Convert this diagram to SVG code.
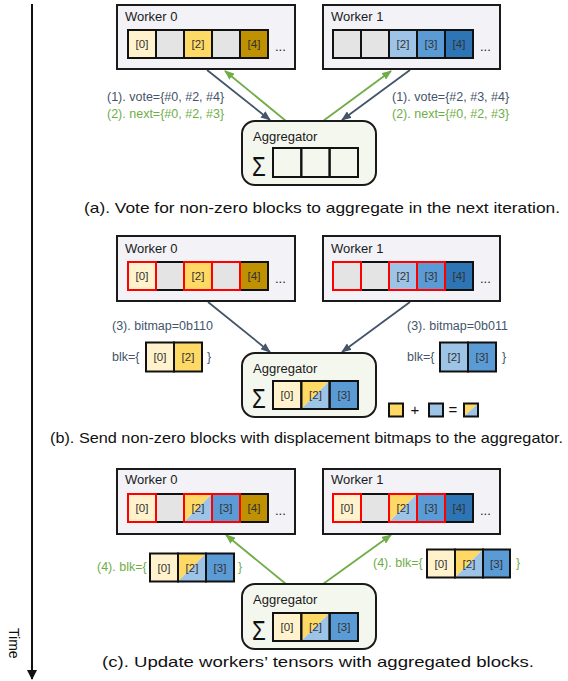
<svg xmlns="http://www.w3.org/2000/svg" width="568" height="681" viewBox="0 0 568 681">
<style>
text{font-family:"Liberation Sans",Arial,sans-serif;}
.wbox{fill:#F2F2F7;stroke:#1a1a1a;stroke-width:2;}
.abox{fill:#F4F7EE;stroke:#1a1a1a;stroke-width:2;}
.c{stroke:#111;stroke-width:2;}
.r{fill:none;stroke:#FF0000;stroke-width:2;}
.cream{fill:#FFF2CC;}
.gray{fill:#E4E4E4;}
.yel{fill:#FFD966;}
.gold{fill:#BF9000;}
.lb{fill:#9DC3E6;}
.mb{fill:#5B9BD5;}
.db{fill:#2E75B6;}
.none{fill:none;}
.t{font-size:13px;fill:#1a1a1a;}
.ct{font-size:11.5px;fill:#333;text-anchor:middle;}
.dots{font-size:13px;fill:#1a1a1a;}
.sig{font-size:36px;fill:#111;}
.ld{font-size:12.5px;fill:#44546A;}
.lg{font-size:12.5px;fill:#70AD47;}
.cap{font-size:14.5px;fill:#111;}
.dk{stroke:#44546A;stroke-width:1.8;fill:none;}
.gr{stroke:#70AD47;stroke-width:1.8;fill:none;}
</style>
<defs>
<marker id="ad" markerUnits="userSpaceOnUse" markerWidth="10" markerHeight="8" refX="9" refY="4" orient="auto"><path d="M0,0 L10,4 L0,8 z" fill="#44546A"/></marker>
<marker id="ag" markerUnits="userSpaceOnUse" markerWidth="10" markerHeight="8" refX="9" refY="4" orient="auto"><path d="M0,0 L10,4 L0,8 z" fill="#70AD47"/></marker>
<marker id="ak" markerUnits="userSpaceOnUse" markerWidth="10" markerHeight="10" refX="9" refY="5" orient="auto"><path d="M0,0 L10,5 L0,10 z" fill="#111"/></marker>
</defs>

<!-- Time axis -->
<g id="time">
<line x1="32" y1="4" x2="32" y2="679" stroke="#111" stroke-width="2" marker-end="url(#ak)"/>
<text transform="translate(9,628) rotate(90)" style="font-size:14px;fill:#111">Time</text>
</g>

<!-- Connectors -->
<g id="connectors">
<line class="dk" x1="207" y1="70" x2="270" y2="120" marker-end="url(#ad)"/>
<line class="dk" x1="410" y1="70" x2="342" y2="120" marker-end="url(#ad)"/>
<line class="gr" x1="286" y1="121" x2="225" y2="71" marker-end="url(#ag)"/>
<line class="gr" x1="323" y1="121" x2="391" y2="71" marker-end="url(#ag)"/>
<line class="dk" x1="208" y1="302" x2="270" y2="352" marker-end="url(#ad)"/>
<line class="dk" x1="410" y1="302" x2="342" y2="352" marker-end="url(#ad)"/>
<line class="gr" x1="286" y1="584" x2="226" y2="535" marker-end="url(#ag)"/>
<line class="gr" x1="323" y1="584" x2="391" y2="535" marker-end="url(#ag)"/>
</g>

<!-- ===== (a) ===== -->
<g id="a-worker0">
<rect class="wbox" x="117" y="5" width="178" height="64"/>
<text class="t" x="125" y="21">Worker 0</text>
<rect class="c cream" x="128" y="30" width="28" height="28"/>
<rect class="c gray" x="156" y="30" width="28" height="28"/>
<rect class="c yel" x="184" y="30" width="28" height="28"/>
<rect class="c gray" x="212" y="30" width="28" height="28"/>
<rect class="c gold" x="240" y="30" width="28" height="28"/>
<text class="ct" x="142" y="48">[0]</text>
<text class="ct" x="198" y="48">[2]</text>
<text class="ct" x="254" y="48">[4]</text>
<text class="dots" x="275" y="51">...</text>
</g>
<g id="a-worker1">
<rect class="wbox" x="323" y="5" width="177" height="64"/>
<text class="t" x="331" y="21">Worker 1</text>
<rect class="c gray" x="333" y="30" width="28" height="28"/>
<rect class="c gray" x="361" y="30" width="28" height="28"/>
<rect class="c lb" x="389" y="30" width="28" height="28"/>
<rect class="c mb" x="417" y="30" width="28" height="28"/>
<rect class="c db" x="445" y="30" width="28" height="28"/>
<text class="ct" x="403" y="48">[2]</text>
<text class="ct" x="431" y="48">[3]</text>
<text class="ct" x="459" y="48">[4]</text>
<text class="dots" x="480" y="51">...</text>
</g>
<g id="a-labels">
<text class="ld" x="107" y="101">(1). vote={#0, #2, #4}</text>
<text class="lg" x="107" y="118">(2). next={#0, #2, #3}</text>
<text class="ld" x="392" y="101">(1). vote={#2, #3, #4}</text>
<text class="lg" x="392" y="118">(2). next={#0, #2, #3}</text>
</g>
<g id="a-aggregator">
<rect class="abox" x="242" y="121" width="134" height="64" rx="13"/>
<text class="t" x="253" y="141">Aggregator</text>
<text class="sig" transform="translate(252,176) scale(0.62,0.78)">Σ</text>
<rect class="c none" x="273" y="148" width="28.3" height="29"/>
<rect class="c none" x="301.3" y="148" width="28.3" height="29"/>
<rect class="c none" x="329.6" y="148" width="28.4" height="29"/>
</g>
<g id="a-caption">
<text class="cap" x="84" y="213" textLength="476" lengthAdjust="spacingAndGlyphs">(a). Vote for non-zero blocks to aggregate in the next iteration.</text>
</g>

<!-- ===== (b) ===== -->
<g id="b-worker0">
<rect class="wbox" x="117" y="236" width="178" height="65"/>
<text class="t" x="125" y="253">Worker 0</text>
<rect class="c cream" x="128" y="262" width="28" height="28"/>
<rect class="c gray" x="156" y="262" width="28" height="28"/>
<rect class="c yel" x="184" y="262" width="28" height="28"/>
<rect class="c gray" x="212" y="262" width="28" height="28"/>
<rect class="c gold" x="240" y="262" width="28" height="28"/>
<rect class="r" x="128" y="262" width="28" height="28"/>
<rect class="r" x="184" y="262" width="28" height="28"/>
<rect class="r" x="212" y="262" width="28" height="28"/>
<text class="ct" x="142" y="280">[0]</text>
<text class="ct" x="198" y="280">[2]</text>
<text class="ct" x="254" y="280">[4]</text>
<text class="dots" x="275" y="283">...</text>
</g>
<g id="b-worker1">
<rect class="wbox" x="323" y="236" width="177" height="65"/>
<text class="t" x="331" y="253">Worker 1</text>
<rect class="c gray" x="333" y="262" width="28" height="28"/>
<rect class="c gray" x="361" y="262" width="28" height="28"/>
<rect class="c lb" x="389" y="262" width="28" height="28"/>
<rect class="c mb" x="417" y="262" width="28" height="28"/>
<rect class="c db" x="445" y="262" width="28" height="28"/>
<rect class="r" x="333" y="262" width="28" height="28"/>
<rect class="r" x="389" y="262" width="28" height="28"/>
<rect class="r" x="417" y="262" width="28" height="28"/>
<text class="ct" x="403" y="280">[2]</text>
<text class="ct" x="431" y="280">[3]</text>
<text class="ct" x="459" y="280">[4]</text>
<text class="dots" x="480" y="283">...</text>
</g>
<g id="b-labels">
<text class="ld" x="112" y="330">(3). bitmap=0b110</text>
<text class="ld" x="407" y="330">(3). bitmap=0b011</text>
<text class="ld" x="112" y="361">blk={</text>
<rect class="c cream" x="146" y="342.5" width="28" height="29"/>
<rect class="c yel" x="174" y="342.5" width="28" height="29"/>
<text class="ct" x="160" y="361">[0]</text>
<text class="ct" x="188" y="361">[2]</text>
<text class="ld" x="207" y="361">}</text>
<text class="ld" x="407" y="361">blk={</text>
<rect class="c lb" x="440" y="342.5" width="28" height="29"/>
<rect class="c mb" x="468" y="342.5" width="28" height="29"/>
<text class="ct" x="454" y="361">[2]</text>
<text class="ct" x="482" y="361">[3]</text>
<text class="ld" x="502" y="361">}</text>
</g>
<g id="b-aggregator">
<rect class="abox" x="242" y="353" width="134" height="64" rx="13"/>
<text class="t" x="253" y="373">Aggregator</text>
<text class="sig" transform="translate(252,408) scale(0.62,0.78)">Σ</text>
<rect class="cream" x="273" y="381" width="28.3" height="28"/>
<polygon class="yel" points="301.3,381 329.6,381 301.3,409"/>
<polygon class="lb" points="329.6,381 329.6,409 301.3,409"/>
<rect class="mb" x="329.6" y="381" width="28.4" height="28"/>
<rect class="c none" x="273" y="381" width="28.3" height="28"/>
<rect class="c none" x="301.3" y="381" width="28.3" height="28"/>
<rect class="c none" x="329.6" y="381" width="28.4" height="28"/>
<text class="ct" x="287" y="399">[0]</text>
<text class="ct" x="315.5" y="399">[2]</text>
<text class="ct" x="344" y="399">[3]</text>
</g>
<g id="legend">
<rect class="c yel" x="389" y="403.5" width="14" height="13"/>
<text x="415" y="415" style="font-size:15px;fill:#111;text-anchor:middle">+</text>
<rect class="c lb" x="429" y="403.5" width="14" height="13"/>
<text x="453" y="415" style="font-size:15px;fill:#111;text-anchor:middle">=</text>
<polygon class="yel" points="464,403.5 478,403.5 464,416.5"/>
<polygon class="lb" points="478,403.5 478,416.5 464,416.5"/>
<rect class="c none" x="464" y="403.5" width="14" height="13"/>
</g>
<g id="b-caption">
<text class="cap" x="50" y="443" textLength="513" lengthAdjust="spacingAndGlyphs">(b). Send non-zero blocks with displacement bitmaps to the aggregator.</text>
</g>

<!-- ===== (c) ===== -->
<g id="c-worker0">
<rect class="wbox" x="117" y="469" width="178" height="65"/>
<text class="t" x="125" y="484">Worker 0</text>
<rect class="c cream" x="128" y="494" width="28" height="28"/>
<rect class="c gray" x="156" y="494" width="28" height="28"/>
<polygon class="yel" points="184,494 212,494 184,522"/>
<polygon class="lb" points="212,494 212,522 184,522"/>
<rect class="c mb" x="212" y="494" width="28" height="28"/>
<rect class="c gold" x="240" y="494" width="28" height="28"/>
<rect class="r" x="128" y="494" width="28" height="28"/>
<rect class="r" x="184" y="494" width="28" height="28"/>
<rect class="r" x="212" y="494" width="28" height="28"/>
<text class="ct" x="142" y="512">[0]</text>
<text class="ct" x="198" y="512">[2]</text>
<text class="ct" x="226" y="512">[3]</text>
<text class="ct" x="254" y="512">[4]</text>
<text class="dots" x="275" y="515">...</text>
</g>
<g id="c-worker1">
<rect class="wbox" x="323" y="469" width="177" height="65"/>
<text class="t" x="331" y="484">Worker 1</text>
<rect class="c cream" x="333" y="494" width="28" height="28"/>
<rect class="c gray" x="361" y="494" width="28" height="28"/>
<polygon class="yel" points="389,494 417,494 389,522"/>
<polygon class="lb" points="417,494 417,522 389,522"/>
<rect class="c mb" x="417" y="494" width="28" height="28"/>
<rect class="c db" x="445" y="494" width="28" height="28"/>
<rect class="r" x="333" y="494" width="28" height="28"/>
<rect class="r" x="389" y="494" width="28" height="28"/>
<rect class="r" x="417" y="494" width="28" height="28"/>
<text class="ct" x="347" y="512">[0]</text>
<text class="ct" x="403" y="512">[2]</text>
<text class="ct" x="431" y="512">[3]</text>
<text class="ct" x="459" y="512">[4]</text>
<text class="dots" x="480" y="515">...</text>
</g>
<g id="c-labels">
<text class="lg" x="97" y="571">(4). blk={</text>
<rect class="cream" x="150" y="553.5" width="28" height="28"/>
<polygon class="yel" points="178,553.5 206,553.5 178,581.5"/>
<polygon class="lb" points="206,553.5 206,581.5 178,581.5"/>
<rect class="mb" x="206" y="553.5" width="28" height="28"/>
<rect class="c none" x="150" y="553.5" width="28" height="28"/>
<rect class="c none" x="178" y="553.5" width="28" height="28"/>
<rect class="c none" x="206" y="553.5" width="28" height="28"/>
<text class="ct" x="164" y="571.5">[0]</text>
<text class="ct" x="192" y="571.5">[2]</text>
<text class="ct" x="220" y="571.5">[3]</text>
<text class="lg" x="238" y="571">}</text>
<text class="lg" x="373" y="567">(4). blk={</text>
<rect class="cream" x="427" y="549.5" width="28" height="28"/>
<polygon class="yel" points="455,549.5 483,549.5 455,577.5"/>
<polygon class="lb" points="483,549.5 483,577.5 455,577.5"/>
<rect class="mb" x="483" y="549.5" width="27" height="28"/>
<rect class="c none" x="427" y="549.5" width="28" height="28"/>
<rect class="c none" x="455" y="549.5" width="28" height="28"/>
<rect class="c none" x="483" y="549.5" width="27" height="28"/>
<text class="ct" x="441" y="567.5">[0]</text>
<text class="ct" x="469" y="567.5">[2]</text>
<text class="ct" x="496.5" y="567.5">[3]</text>
<text class="lg" x="516" y="567">}</text>
</g>
<g id="c-aggregator">
<rect class="abox" x="242" y="584" width="134" height="65" rx="13"/>
<text class="t" x="253" y="604">Aggregator</text>
<text class="sig" transform="translate(252,640) scale(0.62,0.78)">Σ</text>
<rect class="cream" x="273" y="613" width="28.3" height="28"/>
<polygon class="yel" points="301.3,613 329.6,613 301.3,641"/>
<polygon class="lb" points="329.6,613 329.6,641 301.3,641"/>
<rect class="mb" x="329.6" y="613" width="28.4" height="28"/>
<rect class="c none" x="273" y="613" width="28.3" height="28"/>
<rect class="c none" x="301.3" y="613" width="28.3" height="28"/>
<rect class="c none" x="329.6" y="613" width="28.4" height="28"/>
<text class="ct" x="287" y="631">[0]</text>
<text class="ct" x="315.5" y="631">[2]</text>
<text class="ct" x="344" y="631">[3]</text>
</g>
<g id="c-caption">
<text class="cap" x="102" y="667" textLength="432" lengthAdjust="spacingAndGlyphs">(c). Update workers’ tensors with aggregated blocks.</text>
</g>
</svg>
